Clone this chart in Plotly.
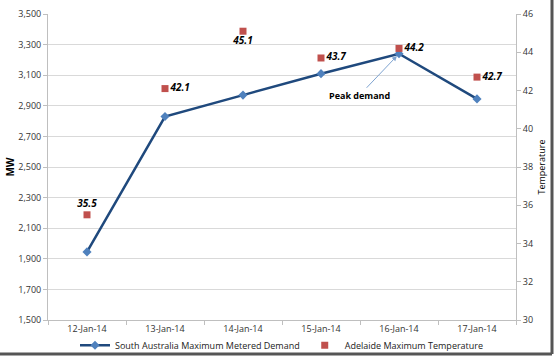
import plotly.graph_objects as go

dates = ["12-Jan-14", "13-Jan-14", "14-Jan-14", "15-Jan-14", "16-Jan-14", "17-Jan-14"]
demand_mw = [1945, 2830, 2970, 3110, 3240, 2945]
temperature = [35.5, 42.1, 45.1, 43.7, 44.2, 42.7]
temp_text_pos = ["top center", "middle right", "bottom center", "middle right", "middle right", "middle right"]
left_ticks = list(range(1500, 3501, 200))
right_ticks = list(range(30, 47, 2))

L, R, T, B = 48, 38, 14, 37
W, H = 554, 357
pw, ph = W - L - R, H - T - B

font = "Open Sans, Liberation Sans, sans-serif"

fig = go.Figure()
fig.add_trace(go.Scatter(
    x=dates, y=demand_mw, mode="lines+markers",
    name="South Australia Maximum Metered Demand",
    line=dict(color="#1F497D", width=2.5),
    marker=dict(symbol="diamond", size=7, color="#4F81BD"),
    yaxis="y",
))
fig.add_trace(go.Scatter(
    x=dates, y=temperature, mode="markers+text",
    name="Adelaide Maximum Temperature",
    marker=dict(symbol="square", size=7, color="#C0504D"),
    text=["<b><i>%.1f</i></b>" % t for t in temperature],
    textposition=temp_text_pos,
    textfont=dict(size=10, color="black", family=font),
    yaxis="y2",
))

fig.add_annotation(
    x=dates[4], y=demand_mw[4], xref="x", yref="y",
    text="<b>Peak demand</b>", font=dict(size=9, family=font, color="black"),
    showarrow=True, arrowhead=2, arrowsize=1, arrowwidth=1, arrowcolor="#7EA3D0",
    ax=-40, ay=42, standoff=3,
)

# chart frame shadow
xr = (552 - L) / pw
yb = (T + ph - 354) / ph
fig.add_shape(type="line", xref="paper", yref="paper", x0=xr, x1=xr, y0=yb, y1=(T + ph) / ph,
              line=dict(color="#555555", width=3))
fig.add_shape(type="line", xref="paper", yref="paper", x0=-L / pw, x1=xr, y0=yb, y1=yb,
              line=dict(color="#555555", width=3))

fig.update_layout(
    width=W, height=H,
    margin=dict(l=L, r=R, t=T, b=B, autoexpand=False),
    paper_bgcolor="white", plot_bgcolor="white",
    font=dict(family=font, size=9, color="#333333"),
    showlegend=True,
    legend=dict(orientation="h", x=0.5, xanchor="center", y=-0.035, yanchor="top",
                bgcolor="rgba(0,0,0,0)",
                font=dict(size=9, color="#222222", family=font), itemwidth=30,
                tracegroupgap=0),
    xaxis=dict(
        type="category", showgrid=False, showline=True, linecolor="#BFBFBF",
        ticks="outside", tickson="boundaries", ticklen=4, tickcolor="#BFBFBF",
        tickfont=dict(size=9), range=[-0.5, 5.5], zeroline=False, automargin=False,
    ),
    yaxis=dict(
        range=[1500, 3500], tickvals=left_ticks, tickformat=",d",
        showgrid=True, gridcolor="#D9D9D9", gridwidth=1,
        showline=True, linecolor="#BFBFBF", ticks="outside", ticklen=4, tickcolor="#BFBFBF",
        tickfont=dict(size=9), zeroline=False, automargin=False,
        title=dict(text="<b>MW</b>", font=dict(size=10, color="black"), standoff=1),
    ),
    yaxis2=dict(
        overlaying="y", side="right", range=[30, 46], tickvals=right_ticks,
        showgrid=False, showline=True, linecolor="#BFBFBF", ticks="outside", ticklen=4,
        tickcolor="#BFBFBF", tickfont=dict(size=9), zeroline=False, automargin=False,
        title=dict(text="Temperature", font=dict(size=9, color="black"), standoff=6),
    ),
)

fig.write_html("out.html", config={"displayModeBar": False},
               post_script="document.body.style.margin='0';document.body.style.overflow='hidden';")
